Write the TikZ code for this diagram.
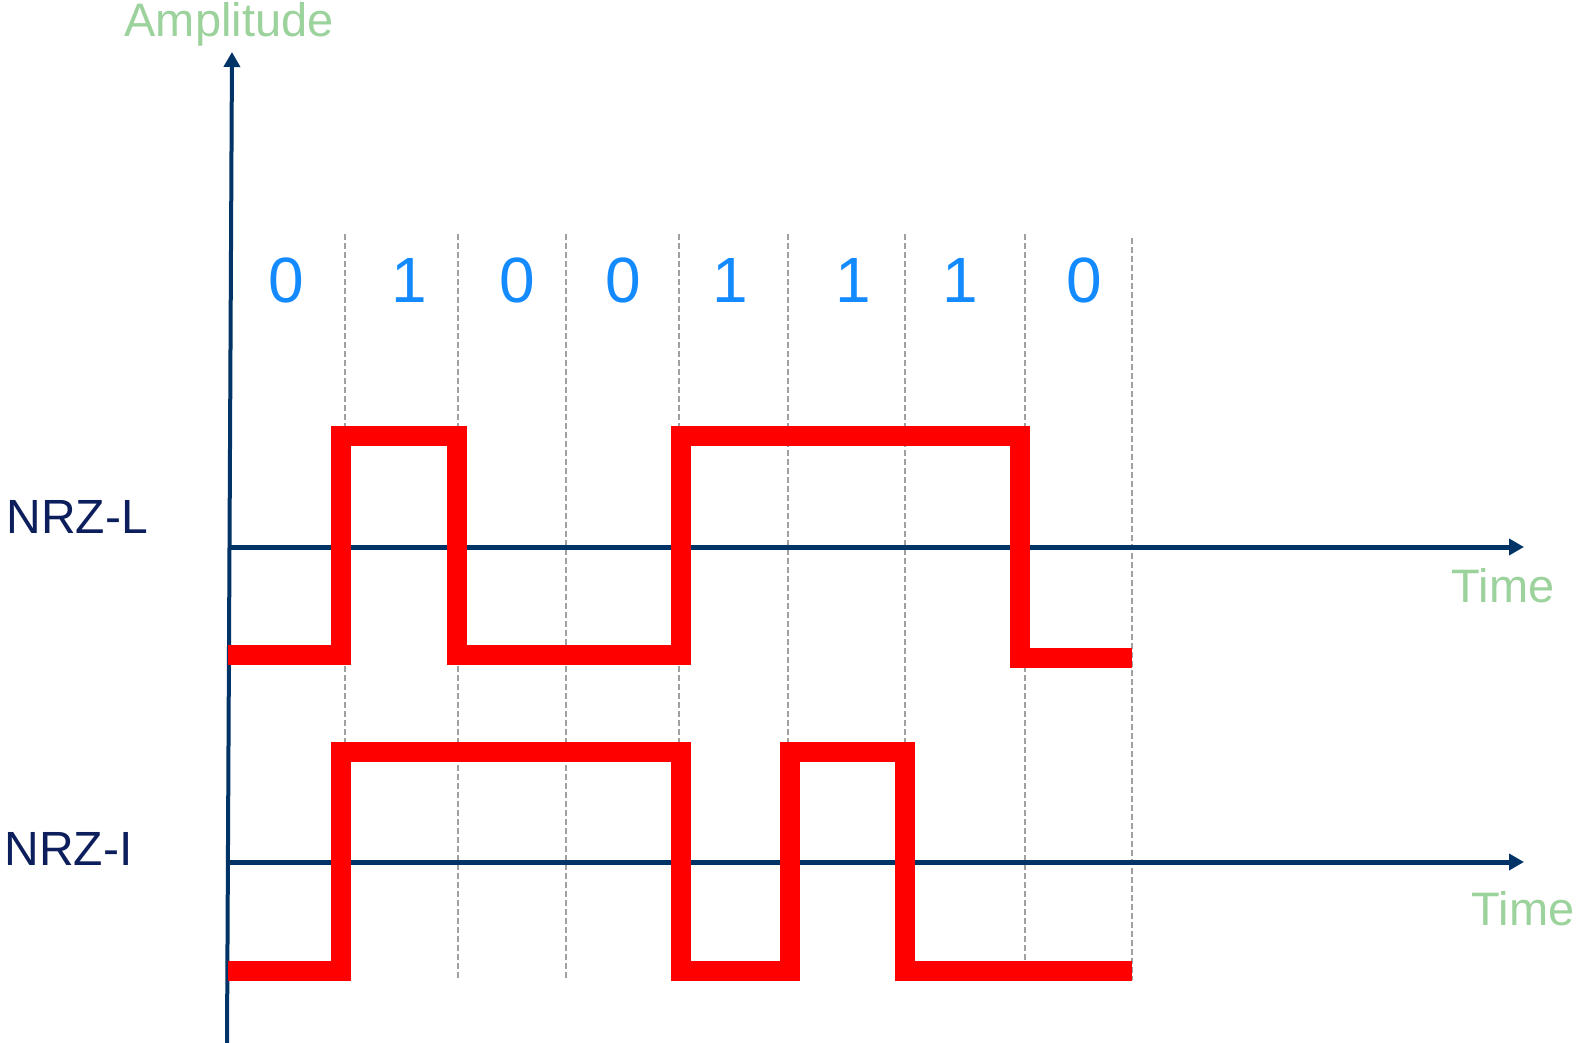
\documentclass[tikz,border=0pt]{standalone}
\usepackage{fontspec}
\setmainfont{Liberation Sans}
\usetikzlibrary{arrows.meta}
\definecolor{axisblue}{RGB}{0,51,102}
\definecolor{codenavy}{RGB}{12,30,92}
\definecolor{bitblue}{RGB}{20,138,255}
\definecolor{labelgreen}{RGB}{156,210,156}
\definecolor{slotgray}{RGB}{160,160,160}
\begin{document}
\begin{tikzpicture}[x=0.5pt, y=-0.5pt,
		arrowaxis/.style={draw=axisblue, line width=2pt, -{Triangle[length=7.5pt, width=8pt]}},
		slotline/.style={slotgray, line width=1pt, dash pattern=on 3pt off 1.5pt},
		signal/.style={red, line width=10pt, line join=miter},
		bit/.style={bitblue, font=\fontsize{32}{38}\selectfont, inner sep=0, anchor=base},
		axislabel/.style={labelgreen, font=\fontsize{23.5}{28}\selectfont, inner sep=0, anchor=base},
		linecode/.style={codenavy, font=\fontsize{24}{29}\selectfont, inner sep=0, anchor=base west}]
		\useasboundingbox ( 0, 0 ) rectangle ( 1576, 1043 );

		% границы битовых интервалов
		\draw [slotline] ( 345, 234 ) -- ( 345, 980 );
		\draw [slotline] ( 458, 234 ) -- ( 458, 980 );
		\draw [slotline] ( 566, 234 ) -- ( 566, 980 );
		\draw [slotline] ( 679, 234 ) -- ( 679, 980 );
		\draw [slotline] ( 788, 234 ) -- ( 788, 980 );
		\draw [slotline] ( 905, 234 ) -- ( 905, 980 );
		\draw [slotline] ( 1025, 234 ) -- ( 1025, 980 );
		\draw [slotline] ( 1132, 238 ) -- ( 1132, 980 );

		% биты
		\node [bit] (b1) at ( 286, 303 ) {0};
		\node [bit] (b2) at ( 409, 303 ) {1};
		\node [bit] (b3) at ( 517, 303 ) {0};
		\node [bit] (b4) at ( 623, 303 ) {0};
		\node [bit] (b5) at ( 730, 303 ) {1};
		\node [bit] (b6) at ( 853, 303 ) {1};
		\node [bit] (b7) at ( 960, 303 ) {1};
		\node [bit] (b8) at ( 1084, 303 ) {0};

		% оси
		\coordinate (ampbot) at ( 227, 1043 );
		\coordinate (amptop) at ( 232, 52 );
		\coordinate (nrzlstart) at ( 230, 547 );
		\coordinate (nrzlend) at ( 1524, 547 );
		\coordinate (nrzistart) at ( 230, 862 );
		\coordinate (nrziend) at ( 1524, 862 );
		\draw [arrowaxis] (ampbot) -- (amptop);
		\draw [arrowaxis, line width=2.5pt] (nrzlstart) -- (nrzlend);
		\draw [arrowaxis, line width=2.5pt] (nrzistart) -- (nrziend);

		% подписи
		\node [axislabel] (amp) at ( 229, 37 ) {Amplitude};
		\node [axislabel] (timel) at ( 1503, 602 ) {Time};
		\node [axislabel] (timei) at ( 1523, 925 ) {Time};
		\node [linecode] (nrzl) at ( 6, 533 ) {NRZ-L};
		\node [linecode] (nrzi) at ( 4, 865 ) {NRZ-I};

		% NRZ-L
		\draw [signal] ( 228, 655 ) -- ( 341, 655 ) -- ( 341, 436 ) -- ( 457, 436 ) -- ( 457, 655 )
			-- ( 681, 655 ) -- ( 681, 436 ) -- ( 1020, 436 ) -- ( 1020, 658 ) -- ( 1132, 658 );

		% NRZ-I
		\draw [signal] ( 228, 971 ) -- ( 341, 971 ) -- ( 341, 752 ) -- ( 681, 752 ) -- ( 681, 971 )
			-- ( 790, 971 ) -- ( 790, 752 ) -- ( 905, 752 ) -- ( 905, 971 ) -- ( 1132, 971 );
	\end{tikzpicture}
\end{document}
